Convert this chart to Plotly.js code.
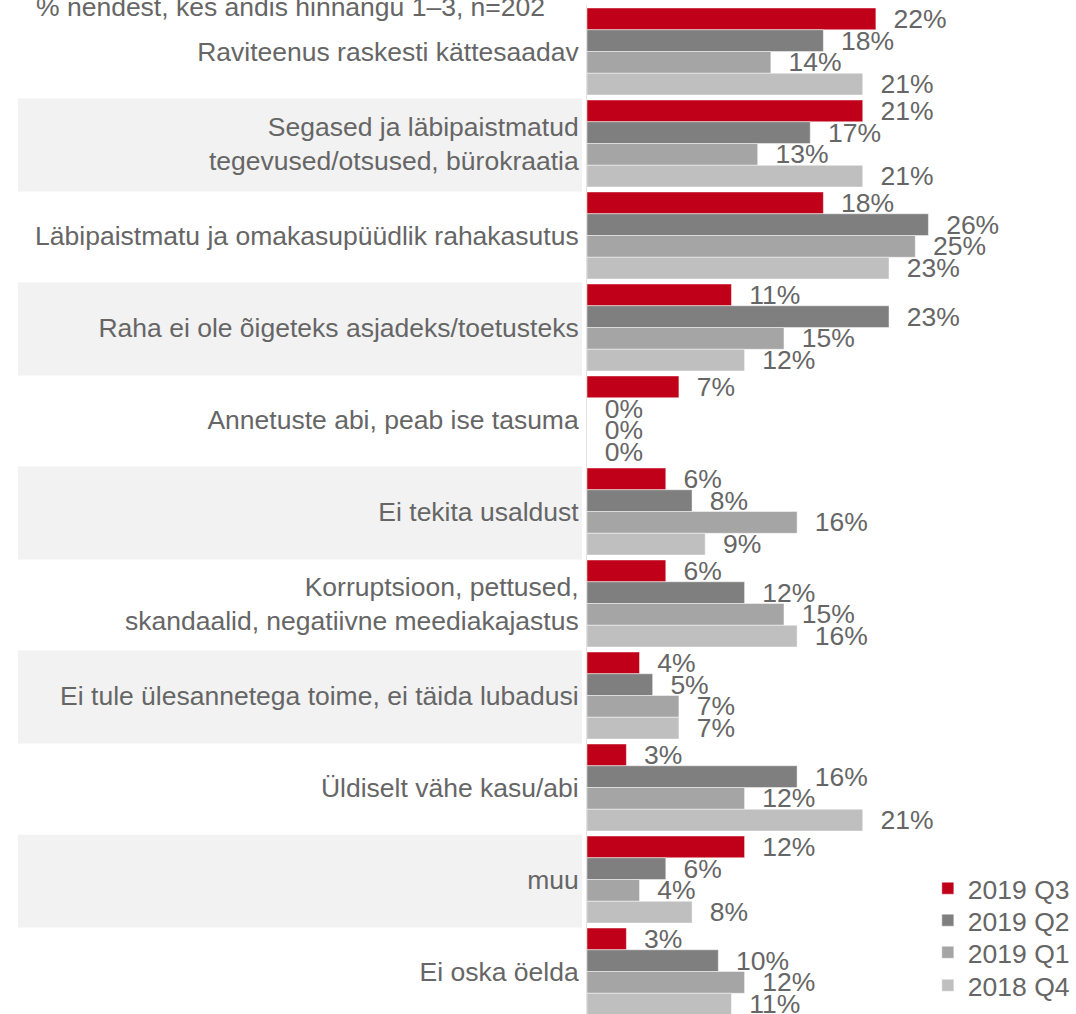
<!DOCTYPE html>
<html>
<head>
<meta charset="utf-8">
<script src="https://cdn.plot.ly/plotly-3.0.1.min.js"></script>
<style>
  html, body { margin: 0; padding: 0; background: #fff; overflow: hidden; }
  #graph { width: 1076px; height: 1014px; }
</style>
</head>
<body>
<div id="graph"></div>
<script>
// kategooriad ylevalt alla
var kategooriad = [
  "Raviteenus raskesti kättesaadav",
  "Segased ja läbipaistmatud<br>tegevused/otsused, bürokraatia",
  "Läbipaistmatu ja omakasupüüdlik rahakasutus",
  "Raha ei ole õigeteks asjadeks/toetusteks",
  "Annetuste abi, peab ise tasuma",
  "Ei tekita usaldust",
  "Korruptsioon, pettused,<br>skandaalid, negatiivne meediakajastus",
  "Ei tule ülesannetega toime, ei täida lubadusi",
  "Üldiselt vähe kasu/abi",
  "muu",
  "Ei oska öelda"
];

var seeriad = ["2019 Q3", "2019 Q2", "2019 Q1", "2018 Q4"];
var varvid = ["#C00018", "#7F7F7F", "#A5A5A5", "#BFBFBF"];

var v2019Q3 = [22, 21, 18, 11, 7, 6, 6, 4, 3, 12, 3];
var v2019Q2 = [18, 17, 26, 23, 0, 8, 12, 5, 16, 6, 10];
var v2019Q1 = [14, 13, 25, 15, 0, 16, 15, 7, 12, 4, 12];
var v2018Q4 = [21, 21, 23, 12, 0, 9, 16, 7, 21, 8, 11];
var vaartused = [v2019Q3, v2019Q2, v2019Q1, v2018Q4];

var alapealkiri = "% nendest, kes andis hinnangu 1–3, n=202";

var font = "Liberation Sans, Arial, sans-serif";
var fs = 26.5;
var tekstiVarv = "#666666";

// iga seeria oma legendikastis, et read oleks tihedamalt
var legendiNimed = ["legend", "legend2", "legend3", "legend4"];
var legendiY = [0.1244, 0.0927, 0.0609, 0.0282];

var data = seeriad.map(function(nimi, i) {
  return {
    type: "bar",
    orientation: "h",
    name: nimi,
    legend: legendiNimed[i],
    x: vaartused[i],
    y: kategooriad,
    marker: { color: varvid[i], line: { width: 1, color: "rgba(255,255,255,0.45)" } },
    texttemplate: "\u00a0\u00a0%{x}%",
    textposition: "outside",
    constraintext: "none",
    cliponaxis: false,
    textfont: { family: font, size: fs, color: tekstiVarv },
    hoverinfo: "none"
  };
});

// hallid taustaribad igal teisel real
var shapes = [];
kategooriad.forEach(function(k, i) {
  if (i % 2 === 1) {
    shapes.push({
      type: "rect", layer: "below",
      xref: "paper", yref: "y",
      x0: -1.1636, x1: -0.0102,
      y0: i - 0.5 + 0.012, y1: i + 0.5 + 0.022,
      fillcolor: "#F2F2F2", line: { width: 0 }
    });
  }
});

var layout = {
  width: 1076,
  height: 1014,
  margin: { l: 587, r: 0, t: 5, b: 0, pad: 0, autoexpand: false },
  paper_bgcolor: "#fff",
  plot_bgcolor: "rgba(0,0,0,0)",
  font: { family: font, size: fs, color: tekstiVarv },
  barmode: "group",
  bargap: 0.0543,
  bargroupgap: 0,
  showlegend: true,
  xaxis: {
    range: [0, 37.24],
    showgrid: false, zeroline: false, showline: false,
    showticklabels: false, ticks: "", automargin: false
  },
  yaxis: {
    type: "category",
    range: [10.4616, -0.5054],
    showgrid: false, zeroline: false,
    showline: true, linecolor: "#E3E3E3", linewidth: 1,
    ticks: "",
    ticklabelstandoff: 2,
    automargin: false,
    tickfont: { family: font, size: fs, color: tekstiVarv }
  },
  shapes: shapes,
  annotations: [{
    text: alapealkiri,
    xref: "paper", yref: "paper",
    x: -1.131, y: 1, xanchor: "left", yanchor: "middle",
    yshift: -2,
    showarrow: false,
    font: { family: font, size: fs, color: tekstiVarv }
  }]
};

legendiNimed.forEach(function(ln, i) {
  layout[ln] = {
    x: 0.697, y: legendiY[i], xanchor: "left", yanchor: "middle",
    bgcolor: "rgba(0,0,0,0)",
    font: { family: font, size: fs, color: tekstiVarv }
  };
});

Plotly.newPlot("graph", data, layout, { staticPlot: true, displayModeBar: false });
</script>
</body>
</html>
